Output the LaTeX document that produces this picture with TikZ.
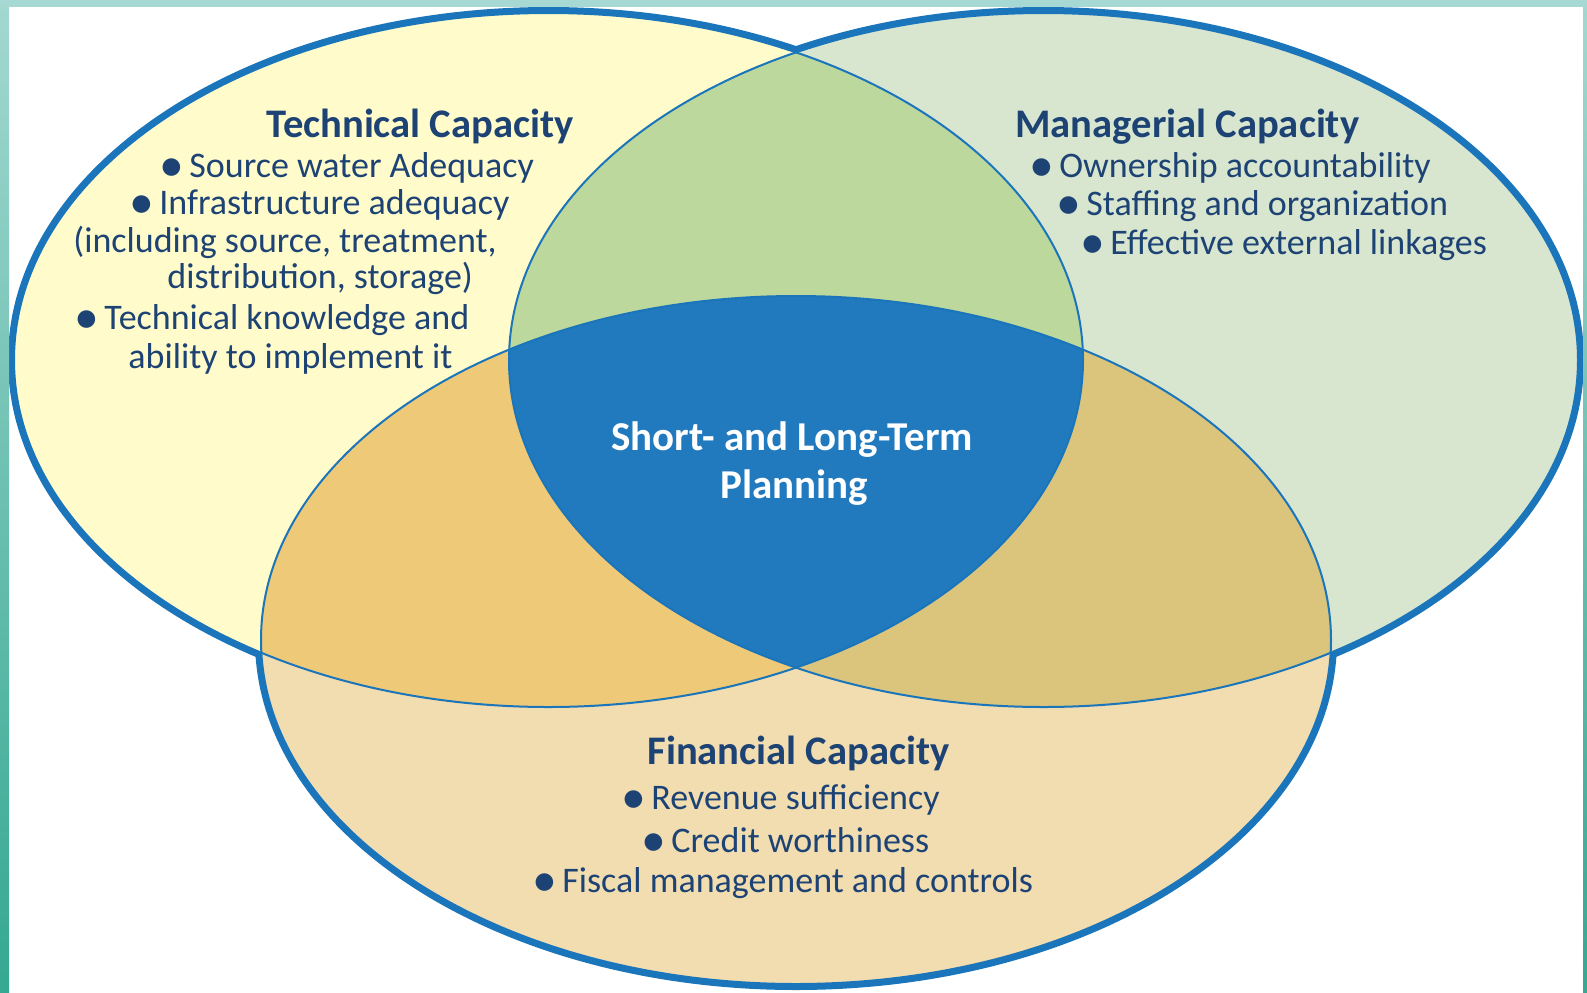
\documentclass[tikz,border=0pt]{standalone}
\usepackage{fontspec}
\setmainfont{Carlito}
\definecolor{techfill}{HTML}{FFFBCB}
\definecolor{manfill}{HTML}{D8E5CF}
\definecolor{finfill}{HTML}{F2DDB0}
\definecolor{tmfill}{HTML}{BDD89D}
\definecolor{tffill}{HTML}{EEC978}
\definecolor{mffill}{HTML}{DBC57D}
\definecolor{allfill}{HTML}{2179BE}
\definecolor{lineblue}{HTML}{1B75BB}
\definecolor{textnavy}{HTML}{1D4375}
\definecolor{tealtop}{HTML}{A6D9D3}
\definecolor{tealA}{HTML}{A3D8D0}
\definecolor{tealB}{HTML}{35A892}
\newcommand\EllT{(548.5,360) ellipse [x radius=267.25pt, y radius=173.5pt]}
\newcommand\EllM{(1043.5,360) ellipse [x radius=267.25pt, y radius=173.5pt]}
\newcommand\EllF{(796,640) ellipse [x radius=267.5pt, y radius=172pt]}
\newcommand\blt{\smash{\raisebox{-0.13em}{\scalebox{1.38}{•}}}\hspace{-0.08em}}
\tikzset{
  ttl/.style={anchor=base west, inner sep=0pt, text=textnavy, text height=0.72em, text depth=0.2em, font=\fontsize{20.3}{22}\selectfont\bfseries},
  itm/.style={anchor=base west, inner sep=0pt, text=textnavy, text height=0.72em, text depth=0.2em, font=\fontsize{18}{19}\selectfont},
  ctr/.style={anchor=base west, inner sep=0pt, text=white, text height=0.72em, text depth=0.2em, font=\fontsize{20.5}{22}\selectfont\bfseries},
  outer/.style={draw=lineblue, line width=6pt},
  inner/.style={draw=lineblue, line width=1pt}
}
\begin{document}
\begin{tikzpicture}[x=0.5pt,y=-0.5pt]
\useasboundingbox (0,0) rectangle (1587,992);
\fill[white] (0,0) rectangle (1587,992);
% thick outer strokes
\path[outer] \EllT;
\path[outer] \EllM;
\path[outer] \EllF;
% base fills
\fill[techfill] \EllT;
\fill[manfill] \EllM;
\fill[finfill] \EllF;
% pairwise intersections
\begin{scope}\clip \EllT; \fill[tmfill] \EllM; \end{scope}
\begin{scope}\clip \EllT; \fill[tffill] \EllF; \end{scope}
\begin{scope}\clip \EllM; \fill[mffill] \EllF; \end{scope}
\begin{scope}\clip \EllT; \clip \EllM; \fill[allfill] \EllF; \end{scope}
% thin strokes
\path[inner] \EllT;
\path[inner] \EllM;
\path[inner] \EllF;
% frame strips
\shade[top color=tealA, bottom color=tealB] (0,0) rectangle (9,992);
\shade[top color=tealA, bottom color=tealB] (1583,0) rectangle (1587,992);
\fill[tealtop] (0,0) rectangle (1587,7);
% Technical
\node[ttl] (tt) at (266,137) {Technical Capacity};
\node[itm] (t1) at (159,177) {\blt\ Source water Adequacy};
\node[itm] (t2) at (129,214) {\blt\ Infrastructure adequacy};
\node[itm] (t3) at (73,252) {(including source, treatment,};
\node[itm] (t4) at (167,288) {distribution, storage)};
\node[itm] (t5) at (74,329) {\blt\ Technical knowledge and};
\node[itm] (t6) at (128,368) {ability to implement it};
% Managerial
\node[ttl] (mt) at (1015,137) {Managerial Capacity};
\node[itm] (m1) at (1029,177) {\blt\ Ownership accountability};
\node[itm] (m2) at (1056,215) {\blt\ Staffing and organization};
\node[itm] (m3) at (1080,254) {\blt\ Effective external linkages};
% Center
\node[ctr] (c1) at (611,450) {Short- and Long-Term};
\node[ctr] (c2) at (720,498) {Planning};
% Financial
\node[ttl] (ft) at (647,764) {Financial Capacity};
\node[itm] (f1) at (621,809) {\blt\ Revenue sufficiency};
\node[itm] (f2) at (641,852) {\blt\ Credit worthiness};
\node[itm] (f3) at (532,892) {\blt\ Fiscal management and controls};
\end{tikzpicture}
\end{document}
